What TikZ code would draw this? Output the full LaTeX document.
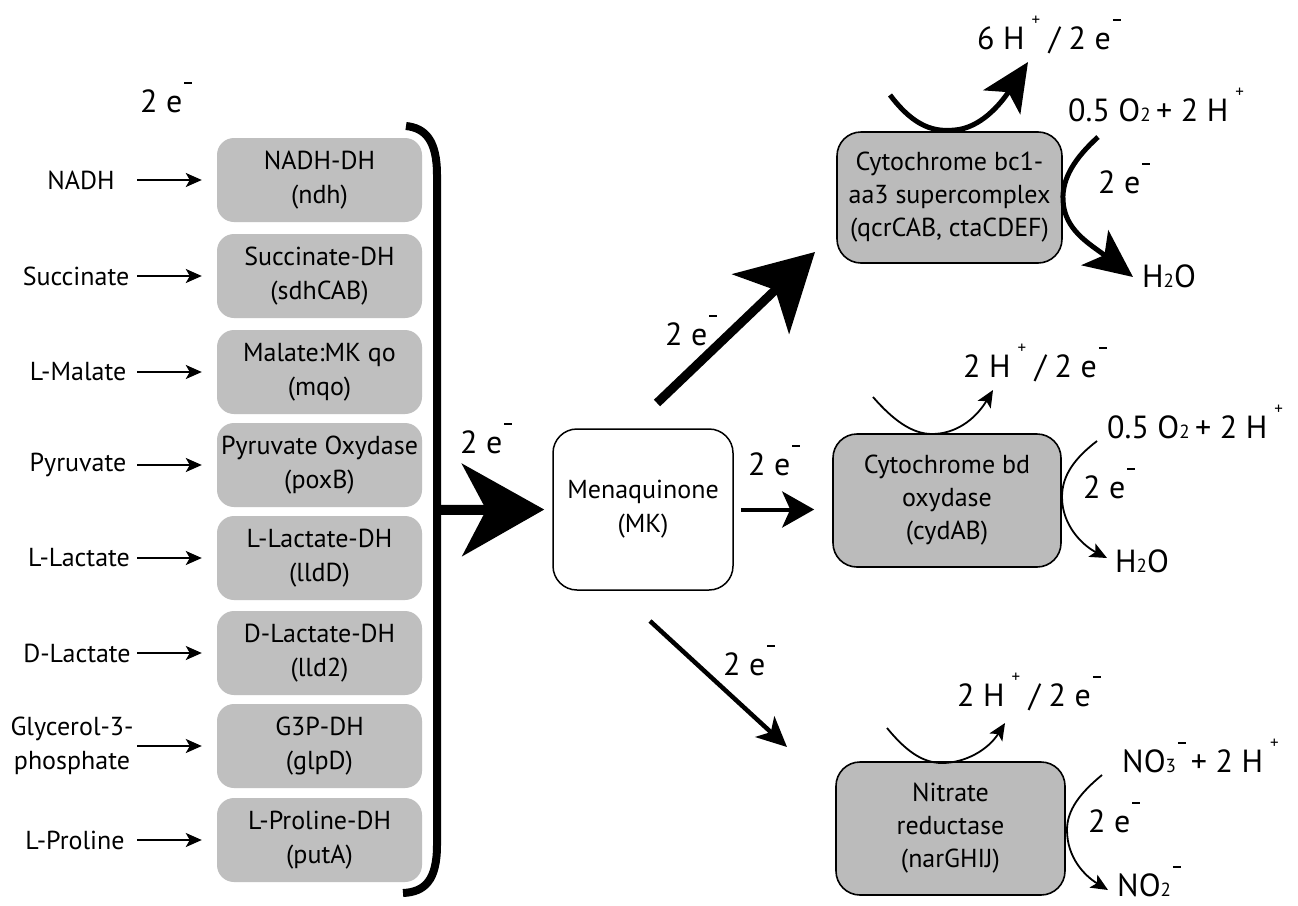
\documentclass[tikz,border=0pt]{standalone}
\usepackage{fontspec}
\setmainfont{PT Sans}
\usetikzlibrary{arrows.meta}

\definecolor{leftgray}{RGB}{191,191,191}
\definecolor{rightgray}{RGB}{187,187,187}

\newcommand\boxtext{\fontsize{26}{34}\selectfont}
\newcommand\rboxtext{\fontsize{26}{33}\selectfont}
\newcommand\lbltext{\fontsize{32}{38}\selectfont}
% raised charges and small indices
\newcommand\supplus{\kern0.22em\raisebox{0.72em}{\fontsize{17}{17}\selectfont +}}
\newcommand\eminus{\kern0.06em\rule[0.86em]{0.24em}{0.07em}}
\newcommand\lowidx[1]{{\fontsize{19}{19}\selectfont #1}}

\begin{document}
\begin{tikzpicture}[x=1pt,y=-1pt,
  every node/.style={inner sep=0pt},
  enzyme/.style={fill=leftgray, rounded corners=17pt, minimum width=205pt,
    minimum height=84pt, align=center, font=\boxtext},
  oxidase/.style={draw, line width=1.6pt, fill=rightgray, rounded corners=24pt,
    align=center, font=\rboxtext},
  substrate/.style={minimum width=120pt, align=center, font=\boxtext},
  feed/.style={line width=2pt, -{Stealth[length=16pt,width=14pt,inset=4pt]},
    shorten >=15pt},
  lbl/.style={anchor=base west, font=\lbltext},
  thinflow/.style={line width=1.8pt, -{Stealth[length=17pt,width=15pt,inset=4pt]}},
  thickflow/.style={line width=5pt, -{Stealth[length=48pt,width=44pt,inset=12pt]}},
]
\useasboundingbox[fill=white] (0,0) rectangle (1298,905);

% ---- dehydrogenases feeding the quinone pool
\node[enzyme] (e1) at (319.5,180) {NADH-DH\\(ndh)};
\node[enzyme] (e2) at (319.5,276) {Succinate-DH\\(sdhCAB)};
\node[enzyme] (e3) at (319.5,372) {Malate:MK qo\\(mqo)};
\node[enzyme] (e4) at (319.5,465) {Pyruvate Oxydase\\(poxB)};
\node[enzyme] (e5) at (319.5,558) {L-Lactate-DH\\(lldD)};
\node[enzyme] (e6) at (319.5,653) {D-Lactate-DH\\(lld2)};
\node[enzyme] (e7) at (319.5,746) {G3P-DH\\(glpD)};
\node[enzyme] (e8) at (319.5,840) {L-Proline-DH\\(putA)};

\node[substrate] (s1) at (81,180) {NADH};
\node[substrate] (s2) at (76,276) {Succinate};
\node[substrate] (s3) at (78,372) {L-Malate};
\node[substrate] (s4) at (78,465) {Pyruvate};
\node[substrate] (s5) at (79,558) {L-Lactate};
\node[substrate] (s6) at (77,653) {D-Lactate};
\node[substrate] (s7) at (72,746) {Glycerol-3-\\phosphate};
\node[substrate] (s8) at (75,840) {L-Proline};

\foreach \i in {1,...,8} \draw[feed] (s\i.east -| 137,0) -- (e\i.west);

\node[lbl] (eTop) at (140,112) {2 e\eminus};

% ---- collecting bracket
\coordinate (brtop) at (406,126);
\coordinate (brbot) at (403,893);
\coordinate (brmid) at (437,510);
\draw[line width=8pt] (brtop) .. controls (425,128) and (437,140) .. (437,175)
  -- (437,845) .. controls (437,880) and (425,892) .. (brbot);

% ---- menaquinone pool
\node[draw, line width=1.5pt, rounded corners=24pt, minimum width=180pt,
  minimum height=161pt, align=center, font=\boxtext] (mk) at (643,509.5)
  {Menaquinone\\(MK)};

\draw[line width=10pt, -{Stealth[length=82pt,width=92pt,inset=24pt]},
  shorten >=8pt] (brmid) -- (mk.west);
\node[lbl] (eIn) at (460,453) {2 e\eminus};

% ---- terminal oxidases
\node[oxidase, minimum width=225pt, minimum height=131pt] (bc1) at (949.5,197.5)
  {Cytochrome bc1-\\aa3 supercomplex\\(qcrCAB, ctaCDEF)};
\node[oxidase, minimum width=228pt, minimum height=133pt] (bd) at (947,500.5)
  {Cytochrome bd\\oxydase\\(cydAB)};
\node[oxidase, minimum width=229pt, minimum height=133pt] (nar) at (950.5,828.5)
  {Nitrate\\reductase\\(narGHIJ)};

% ---- electron transfer from MK
\coordinate (upstart) at (657,403);
\coordinate (uptip) at (815,252);
\draw[line width=9pt, -{Stealth[length=75pt,width=82pt,inset=20pt]}] (upstart) -- (uptip);
\node[lbl] (eUp) at (665,345) {2 e\eminus};

\draw[line width=4pt, -{Stealth[length=32pt,width=36pt,inset=8pt]},
  shorten <=7pt, shorten >=18pt] (mk.east) -- (mk.east -| bd.west);
\node[lbl] (eMid) at (748,475) {2 e\eminus};

\coordinate (dnstart) at (650,621);
\coordinate (dntip) at (787,747);
\draw[line width=4.5pt, -{Stealth[length=30pt,width=28pt,inset=8pt]}] (dnstart) -- (dntip);
\node[lbl] (eDn) at (723,675) {2 e\eminus};

% ---- bc1-aa3 supercomplex: proton pumping and oxygen reduction
\coordinate (p1a) at (890,95);
\coordinate (p1b) at (1028,62);
\draw[thickflow] (p1a) .. controls (915,128) and (935,132) .. (955,130)
  .. controls (980,128) and (1000,105) .. (p1b);
\node[lbl] (h1) at (977,49) {6 H\supplus{} / 2 e\eminus};

\coordinate (o1a) at (1098,137);
\coordinate (o1b) at (1133,277);
\draw[thickflow] (o1a) .. controls (1075,158) and (1062,178) .. (1063,200)
  .. controls (1064,230) and (1090,244) .. (o1b);
\node[lbl] (ox1) at (1068,121) {0.5 O\lowidx{2}\,+ 2 H\supplus};
\node[lbl] (e1r) at (1098,193) {2 e\eminus};
\node[lbl] (w1) at (1142,287) {H\lowidx{2}O};

% ---- cytochrome bd oxidase
\coordinate (p2a) at (873,397);
\coordinate (p2b) at (993,390);
\draw[thinflow] (p2a) .. controls (893,420) and (912,434) .. (932,434)
  .. controls (955,434) and (975,420) .. (p2b);
\node[lbl] (h2) at (963,377) {2 H\supplus{} / 2 e\eminus};

\coordinate (o2a) at (1097,441);
\coordinate (o2b) at (1107,558);
\draw[thinflow] (o2a) .. controls (1075,458) and (1062,475) .. (1062,497)
  .. controls (1062,525) and (1082,545) .. (o2b);
\node[lbl] (ox2) at (1107,438) {0.5 O\lowidx{2}\,+ 2 H\supplus};
\node[lbl] (e2r) at (1083,498) {2 e\eminus};
\node[lbl] (w2) at (1115,572) {H\lowidx{2}O};

% ---- nitrate reductase
\coordinate (p3a) at (887,728);
\coordinate (p3b) at (1005,723);
\draw[thinflow] (p3a) .. controls (905,750) and (922,763) .. (942,763)
  .. controls (965,763) and (988,750) .. (p3b);
\node[lbl] (h3) at (957,706) {2 H\supplus{} / 2 e\eminus};

\coordinate (n3a) at (1102,775);
\coordinate (n3b) at (1108,890);
\draw[thinflow] (n3a) .. controls (1080,793) and (1067,810) .. (1067,830)
  .. controls (1067,858) and (1085,876) .. (n3b);
\node[lbl] (no3) at (1122,772) {NO\lowidx{3}\eminus\,+ 2 H\supplus};
\node[lbl] (e3r) at (1088,832) {2 e\eminus};
\node[lbl] (no2) at (1117,896) {NO\lowidx{2}\eminus};
\end{tikzpicture}
\end{document}
